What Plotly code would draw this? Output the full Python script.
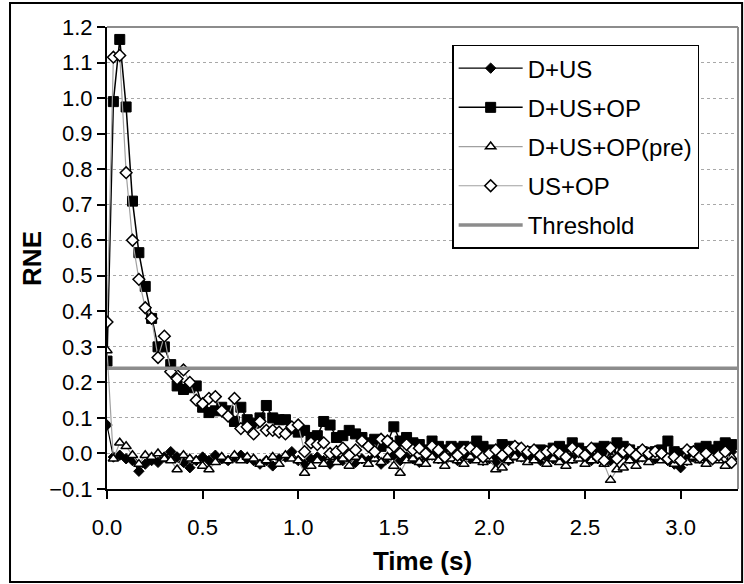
import plotly.graph_objects as go

# ---- data ----
n_points = 99
frame_dt = 1.0 / 30.0
time_s = [round(i * frame_dt, 4) for i in range(n_points)]

d_us = [0.08, -0.01, -0.005, -0.015, -0.02, -0.05, -0.03, -0.02, -0.025, -0.01,
        0.005, -0.01, -0.025, -0.04, -0.02, -0.01, -0.02, -0.005, -0.015, -0.02,
        -0.01, -0.005, -0.015, -0.02, -0.03, -0.02, -0.035, -0.015, -0.01, 0.005,
        -0.02, -0.03, -0.015, -0.01, -0.02, -0.03, -0.015, -0.02, -0.01, -0.025,
        -0.015, -0.02, -0.01, -0.03, -0.015, -0.005, -0.02, -0.01, -0.015, -0.025,
        -0.01, -0.005, -0.015, -0.02, -0.01, -0.02, -0.005, -0.015, -0.01, -0.02,
        -0.015, -0.025, -0.01, -0.02, -0.005, -0.01, -0.015, -0.01, -0.02, -0.005,
        -0.015, -0.01, -0.02, -0.015, -0.005, -0.01, -0.02, -0.015, -0.005, -0.02,
        -0.01, 0.0, -0.015, -0.02, -0.01, -0.005, -0.015, -0.01, -0.02, -0.03,
        -0.04, -0.02, -0.01, -0.005, -0.015, -0.01, 0.0, 0.025, 0.005]

d_us_op = [0.26, 0.99, 1.165, 0.975, 0.71, 0.565, 0.47, 0.38, 0.30, 0.30,
           0.25, 0.19, 0.18, 0.185, 0.19, 0.13, 0.115, 0.12, 0.13, 0.12,
           0.09, 0.13, 0.095, 0.085, 0.10, 0.135, 0.10, 0.095, 0.095, 0.07,
           0.06, 0.065, 0.045, 0.05, 0.09, 0.08, 0.045, 0.05, 0.065, 0.055,
           0.045, 0.03, 0.04, 0.02, 0.03, 0.075, 0.035, 0.045, 0.03, 0.025,
           0.01, 0.035, 0.02, 0.01, 0.02, 0.015, 0.02, 0.01, 0.035, 0.02,
           0.01, 0.0, 0.025, 0.02, 0.015, 0.005, 0.0, 0.005, 0.01, 0.0,
           0.015, 0.02, 0.01, 0.03, 0.015, 0.005, 0.0, 0.015, 0.02, 0.01,
           0.03, 0.02, 0.01, 0.0, 0.005, 0.0, 0.005, 0.01, 0.035, 0.005,
           0.0, 0.0, 0.005, 0.015, 0.02, 0.01, 0.02, 0.03, 0.025]

d_us_op_pre = [0.29, -0.015, 0.03, 0.02, -0.005, -0.03, -0.005, -0.01, 0.0, -0.015,
               -0.02, -0.045, -0.005, -0.015, -0.02, -0.035, -0.045, -0.025, -0.01, -0.02,
               -0.005, -0.02, -0.01, -0.015, -0.03, -0.02, -0.01, -0.03, -0.005, -0.015,
               -0.02, -0.055, -0.035, -0.02, -0.03, -0.01, -0.025, -0.015, -0.035, -0.01,
               -0.02, -0.03, -0.015, -0.025, -0.01, -0.035, -0.055, -0.02, -0.015, -0.025,
               -0.03, -0.01, -0.02, -0.035, -0.015, -0.02, -0.03, -0.01, -0.02, -0.025,
               -0.015, -0.045, -0.04, -0.02, -0.01, -0.015, -0.025, -0.02, -0.01, -0.03,
               -0.015, -0.025, -0.035, -0.02, -0.015, -0.03, -0.02, -0.01, -0.03, -0.075,
               -0.045, -0.04, -0.02, -0.035, -0.015, -0.025, -0.01, -0.02, -0.015, -0.03,
               -0.02, -0.025, -0.01, -0.02, -0.03, -0.015, -0.02, -0.035, -0.01]

us_op = [0.37, 1.115, 1.12, 0.79, 0.60, 0.49, 0.41, 0.38, 0.27, 0.33,
         0.23, 0.21, 0.235, 0.20, 0.15, 0.14, 0.155, 0.16, 0.12, 0.105,
         0.155, 0.07, 0.075, 0.055, 0.09, 0.065, 0.065, 0.06, 0.055, 0.075,
         0.08, 0.005, 0.03, 0.025, 0.03, 0.0, 0.005, 0.015, -0.005, 0.01,
         0.035, 0.02, 0.005, 0.04, 0.035, 0.02, 0.0, 0.025, 0.01, 0.015,
         0.0, 0.02, 0.01, -0.01, 0.015, -0.005, 0.01, 0.015, 0.005, -0.01,
         0.0, 0.01, -0.005, 0.01, 0.02, 0.015, 0.005, 0.01, -0.005, 0.005,
         0.01, 0.0, -0.01, 0.015, 0.005, -0.005, 0.015, -0.01, -0.02, 0.015,
         -0.015, 0.005, 0.01, -0.005, 0.01, 0.0, 0.005, 0.0, -0.015, -0.01,
         -0.02, 0.01, 0.005, -0.01, 0.0, -0.015, -0.005, 0.005, -0.025]

threshold_value = 0.24
threshold_x = [0.0, 3.3]

series_names = ["D+US", "D+US+OP", "D+US+OP(pre)", "US+OP", "Threshold"]
x_tick_vals = [0.0, 0.5, 1.0, 1.5, 2.0, 2.5, 3.0]
y_tick_vals = [-0.1, 0.0, 0.1, 0.2, 0.3, 0.4, 0.5, 0.6, 0.7, 0.8, 0.9, 1.0, 1.1, 1.2]

FONT = "Liberation Sans, Arial, sans-serif"

fig = go.Figure()

fig.add_trace(go.Scatter(
    x=time_s, y=d_us, name=series_names[0], mode="lines+markers", legendgroup="a",
    line=dict(color="black", width=1.2),
    marker=dict(symbol="diamond", size=8, color="black", line=dict(color="black", width=1))))

fig.add_trace(go.Scatter(
    x=time_s, y=d_us_op, name=series_names[1], mode="lines+markers", legendgroup="b",
    line=dict(color="black", width=1.5),
    marker=dict(symbol="square", size=10, color="black", line=dict(color="black", width=1))))

fig.add_trace(go.Scatter(
    x=time_s, y=d_us_op_pre, name=series_names[2], mode="lines+markers", legendgroup="c",
    line=dict(color="#a0a0a0", width=1.2),
    marker=dict(symbol="triangle-up", size=9, color="white", line=dict(color="black", width=1.5))))

fig.add_trace(go.Scatter(
    x=time_s, y=us_op, name=series_names[3], mode="lines+markers", legendgroup="d",
    line=dict(color="#a0a0a0", width=1.2),
    marker=dict(symbol="diamond", size=9, color="white", line=dict(color="black", width=1.5))))

fig.add_trace(go.Scatter(
    x=threshold_x, y=[threshold_value, threshold_value], name=series_names[4],
    mode="lines", legendgroup="e",
    line=dict(color="#8c8c8c", width=3.5)))

fig.update_layout(
    width=744, height=584,
    margin=dict(l=107, r=6, t=27, b=95),
    paper_bgcolor="white", plot_bgcolor="white",
    font=dict(family=FONT, size=22, color="black"),
    showlegend=True,
    legend=dict(
        x=0.547, y=0.962, xanchor="left", yanchor="top",
        bgcolor="white", bordercolor="black", borderwidth=1.5,
        font=dict(family=FONT, size=24, color="black"),
        tracegroupgap=5, itemwidth=64,
    ),
    xaxis=dict(
        range=[0, 3.3], tickvals=x_tick_vals, tickformat=".1f",
        ticks="outside", ticklen=8, tickwidth=1.5, tickcolor="black",
        showline=True, linecolor="black", linewidth=2,
        showgrid=False, zeroline=False,
        ticklabelstandoff=10,
        title=dict(text="<b>Time (s)</b>", font=dict(family=FONT, size=26), standoff=12),
    ),
    yaxis=dict(
        range=[-0.1, 1.2], tickvals=y_tick_vals, tickformat=".1f",
        ticksuffix="\u00a0\u00a0",
        ticks="outside", ticklen=8, tickwidth=1.5, tickcolor="black",
        showline=True, linecolor="black", linewidth=2,
        showgrid=True, gridcolor="#a8a8a8", gridwidth=1, griddash="dot",
        zeroline=False,
    ),
    annotations=[
        dict(text="<b>RNE</b>", xref="paper", yref="paper", x=-0.119, y=0.5,
             xanchor="center", yanchor="middle", textangle=-90, showarrow=False,
             font=dict(family=FONT, size=26, color="black")),
    ],
    shapes=[
        dict(type="line", xref="paper", yref="paper", x0=0, x1=1, y0=1, y1=1,
             line=dict(color="#8c8c8c", width=2)),
        dict(type="line", xref="paper", yref="paper", x0=1, x1=1, y0=0, y1=1,
             line=dict(color="#8c8c8c", width=2)),
        dict(type="rect", xref="paper", yref="paper",
             x0=-0.1537, x1=1.0065, y0=-0.2013, y1=1.052,
             line=dict(color="black", width=2), fillcolor="rgba(0,0,0,0)", layer="below"),
    ],
)

fig.write_html("out.html")
